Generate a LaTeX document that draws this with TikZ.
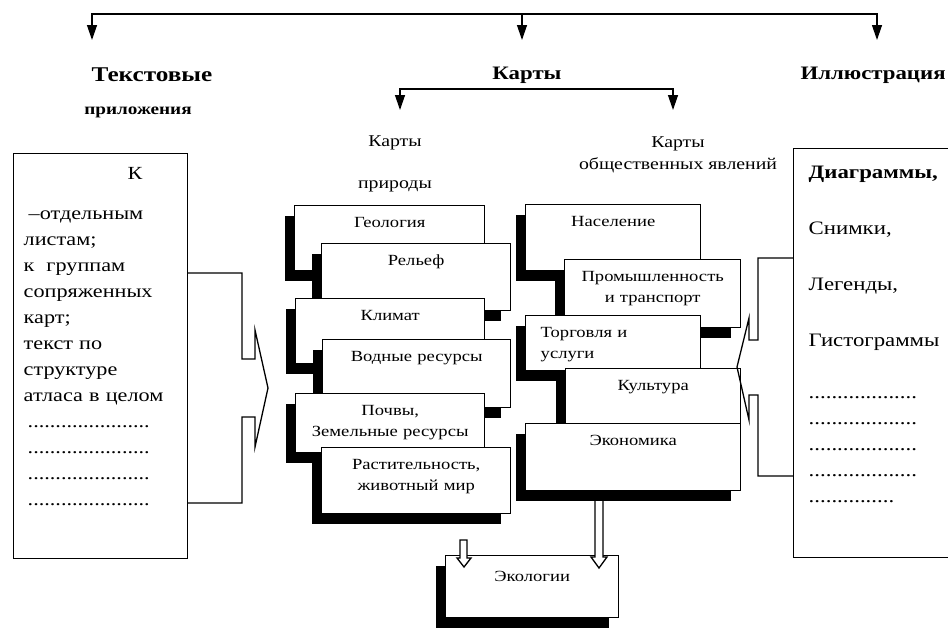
\documentclass[tikz,border=0pt]{standalone}
\usepackage{fontspec}
\setmainfont[FakeStretch=1.2]{Liberation Serif}
\usetikzlibrary{arrows.meta,shadows}

\begin{document}
\begin{tikzpicture}[x=1pt, y=-1pt, thick,
    main box/.style={draw, fill=white, line width=1.4pt, anchor=north west, align=center, inner xsep=4pt, inner ysep=0pt, text height=22pt, font=\fontsize{15.5}{21}\selectfont, drop shadow={shadow xshift=-10pt, shadow yshift=-10pt, fill=black, opacity=1}},
    side box/.style={draw, line width=1.4pt, anchor=north west, align=left, inner ysep=0pt},
    head/.style={font=\bfseries\fontsize{19}{22}\selectfont},
    sub/.style={align=center, font=\fontsize{16.5}{22}\selectfont},
    tip/.style={line width=1.3pt, -{Triangle[width=10pt,length=15pt]}},
    block/.style={line width=1.3pt, line join=miter},
    hollow/.style={line width=1.3pt, fill=white}]

    \useasboundingbox (0,0) rectangle (948,627);

    \coordinate (root) at (522,14);
    \coordinate (t1) at (92,40);
    \coordinate (t2) at (522,40);
    \coordinate (t3) at (877,40);
    \draw[tip] (root) -| (t1);
    \draw[tip] (root) -| (t3);
    \draw[tip] (root) -- (t2);

    \node[head, font=\bfseries\fontsize{21}{24}\selectfont] at (152,75) (txt) {Текстовые};
    \node[font=\bfseries\fontsize{16}{18}\selectfont] at (138,112) (txt2) {приложения};
    \node[head] at (527,75) (maps) {Карты};
    \node[head, anchor=east, inner xsep=0pt] at (946,75) (ill) {Иллюстрация};

    \coordinate (mroot) at (537,89);
    \coordinate (m1) at (400,110);
    \coordinate (m2) at (673,110);
    \draw[tip] (mroot) -| (m1);
    \draw[tip] (mroot) -| (m2);

    \node[sub] at (395,164) (nat) {Карты\\[20pt]природы};
    \node[sub] at (678,155) (soc) {Карты\\общественных явлений};

    \node[side box, inner xsep=10pt, text width=154pt, text height=26pt, text depth=379pt, font=\fontsize{18.5}{26}\selectfont] at (13,153) (texts) {\hspace*{104pt}К\\[14pt]
        \hspace*{5pt}–отдельным\\
        листам;\\
        к\hspace{12pt}группам\\
        сопряженных\\
        карт;\\
        текст по\\
        структуре\\
        атласа в целом\\
        \hspace*{4pt}......................\\
        \hspace*{4pt}......................\\
        \hspace*{4pt}......................\\
        \hspace*{4pt}......................};

    \node[side box, inner xsep=15pt, text width=140pt, text height=30pt, text depth=379pt, font=\fontsize{19}{26}\selectfont] at (793,148) (illus) {\textbf{Диаграммы,}\\[30pt]
        Снимки,\\[30pt]
        Легенды,\\[30pt]
        Гистограммы\\[26pt]
        ...................\\
        ...................\\
        ...................\\
        ...................\\
        ...............};

    \node[main box, text width=182pt, text depth=43pt] at (294,205) (geo) {Геология};
    \node[main box, text width=181pt, text depth=45pt] at (321,243) (rel) {Рельеф};
    \node[main box, text width=181pt, text depth=43pt] at (295,298) (clim) {Климат};
    \node[main box, text width=180pt, text depth=46pt] at (322,339) (water) {Водные ресурсы};
    \node[main box, text width=181pt, text depth=37pt] at (295,393) (soil) {Почвы,\\Земельные ресурсы};
    \node[main box, text width=181pt, text depth=44pt] at (321,447) (flora) {Растительность,\\животный мир};

    \node[main box, text width=167pt, text depth=44pt] at (525,204) (pop) {Население};
    \node[main box, text width=168pt, text depth=46pt] at (564,259) (ind) {Промышленность\\и транспорт};
    \node[main box, align=left, inner xsep=15pt, text width=145pt, text depth=33pt] at (525,315) (trade) {Торговля и\\услуги};
    \node[main box, text width=167pt, text depth=40pt] at (565,368) (cult) {Культура};
    \node[main box, text width=207pt, text depth=45pt] at (525,423) (econ) {Экономика};

    \node[main box, text width=165pt, text height=26pt, text depth=36pt] at (445,555) (eco) {Экологии};

    \draw[block] (187,273) -- (242,273) -- (242,359) -- (255,359) -- (255,330) -- (268,388) -- (255,447) -- (255,417) -- (242,417) -- (242,503) -- (187,503);
    \draw[block] (793,258) -- (758,258) -- (758,340) -- (749,340) -- (749,318) -- (737,367) -- (749,420) -- (749,395) -- (758,395) -- (758,476) -- (793,476);

    \draw[hollow] (595,501) -- (595,557) -- (591,557) -- (599,568) -- (607,557) -- (603,557) -- (603,501);
    \draw[hollow] (460,540) -- (460,558) -- (457,558) -- (464,567) -- (471,558) -- (467,558) -- (467,540) -- cycle;

\end{tikzpicture}
\end{document}
